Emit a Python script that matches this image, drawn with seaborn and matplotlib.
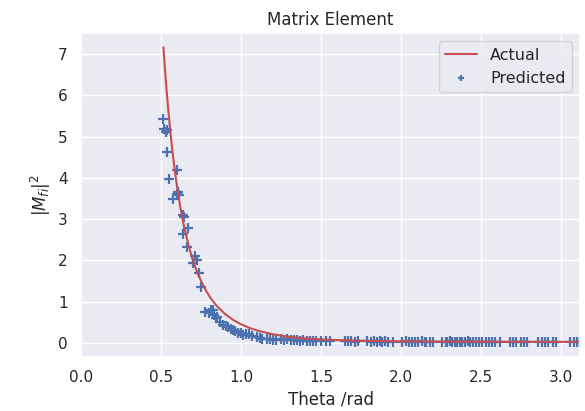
import matplotlib
matplotlib.use("Agg")
import matplotlib.pyplot as plt
import seaborn as sns
import pandas as pd

# Analytic ("actual") matrix element versus scattering angle
theta_actual = [0.515, 0.53, 0.545, 0.56, 0.575, 0.59, 0.605, 0.62, 0.64, 0.66,
                0.68, 0.70, 0.725, 0.75, 0.78, 0.81, 0.85, 0.90, 0.95, 1.00,
                1.06, 1.12, 1.20, 1.30, 1.40, 1.55, 1.70, 1.90, 2.10, 2.40,
                2.70, 3.00, 3.12]
m2_actual = [7.16, 6.36, 5.66, 5.06, 4.53, 4.07, 3.67, 3.31, 2.90, 2.56,
             2.26, 2.00, 1.73, 1.51, 1.28, 1.09, 0.895, 0.706, 0.564, 0.456,
             0.358, 0.285, 0.214, 0.153, 0.113, 0.08, 0.062, 0.048, 0.041, 0.035,
             0.032, 0.030, 0.030]

# Network predictions
theta_pred = [0.511, 0.52, 0.53, 0.535, 0.54, 0.598, 0.548, 0.598, 0.614, 0.605,
              0.577, 0.64, 0.645, 0.671, 0.64, 0.664, 0.7125, 0.723, 0.698, 0.74,
              0.748, 0.775, 0.80, 0.81, 0.827, 0.83, 0.844, 0.848, 0.869, 0.89,
              0.905, 0.92, 0.935, 0.95, 0.965, 0.98, 1.00, 1.01, 1.03, 1.05,
              1.07, 1.10, 1.12, 1.13, 1.16, 1.18, 1.20, 1.22, 1.25, 1.27,
              1.29, 1.31, 1.33, 1.35, 1.37, 1.39, 1.41, 1.43, 1.45, 1.47,
              1.50, 1.53, 1.555, 1.65, 1.67, 1.69, 1.71, 1.73, 1.79, 1.81,
              1.83, 1.85, 1.87, 1.88, 1.90, 1.92, 1.95, 2.01, 2.03, 2.05,
              2.07, 2.09, 2.11, 2.13, 2.15, 2.16, 2.18, 2.20, 2.26, 2.28,
              2.29, 2.31, 2.32, 2.34, 2.35, 2.37, 2.38, 2.40, 2.42, 2.43,
              2.45, 2.47, 2.49, 2.51, 2.53, 2.55, 2.57, 2.59, 2.62, 2.68,
              2.70, 2.72, 2.75, 2.77, 2.79, 2.86, 2.88, 2.90, 2.92, 2.95,
              2.97, 3.06, 3.08, 3.10, 3.12]
m2_pred = [5.42, 5.18, 5.12, 5.16, 4.62, 4.18, 3.98, 3.61, 3.58, 3.65,
           3.48, 3.10, 3.05, 2.78, 2.64, 2.32, 2.11, 2.01, 1.94, 1.70,
           1.36, 0.76, 0.74, 0.79, 0.80, 0.68, 0.60, 0.64, 0.52, 0.44,
           0.42, 0.38, 0.35, 0.31, 0.30, 0.25, 0.24, 0.19, 0.22, 0.23,
           0.17, 0.15, 0.12, 0.09, 0.11, 0.09, 0.08, 0.07, 0.09, 0.08,
           0.09, 0.07, 0.08, 0.07, 0.06, 0.07, 0.06, 0.05, 0.06, 0.05,
           0.05, 0.05, 0.04, 0.04, 0.05, 0.04, 0.03, 0.04, 0.04, 0.03,
           0.04, 0.03, 0.04, 0.03, 0.04, 0.03, 0.03, 0.03, 0.04, 0.03,
           0.02, 0.03, 0.03, 0.04, 0.03, 0.02, 0.03, 0.03, 0.03, 0.02,
           0.03, 0.04, 0.03, 0.02, 0.03, 0.03, 0.02, 0.03, 0.04, 0.03,
           0.02, 0.03, 0.03, 0.02, 0.03, 0.03, 0.02, 0.03, 0.03, 0.02,
           0.03, 0.03, 0.02, 0.03, 0.02, 0.03, 0.02, 0.03, 0.03, 0.02,
           0.03, 0.02, 0.03, 0.03, 0.02]

x_ticks = [0.0, 0.5, 1.0, 1.5, 2.0, 2.5, 3.0]

sns.set_theme(style="darkgrid")

actual = pd.DataFrame({"theta": theta_actual, "m2": m2_actual})
pred = pd.DataFrame({"theta": theta_pred, "m2": m2_pred})

fig, ax = plt.subplots(figsize=(5.85, 4.11), dpi=100)
fig.subplots_adjust(left=0.1385, right=0.9915, top=0.919, bottom=0.131)

sns.lineplot(data=actual, x="theta", y="m2", color="r", label="Actual", ax=ax)
sns.scatterplot(data=pred, x="theta", y="m2", marker="+", color="b",
                s=44, linewidth=1.6, label="Predicted", ax=ax)

ax.set_xlim(0, 3.12)
ax.set_ylim(-0.34, 7.5)
ax.set_xticks(x_ticks)
ax.set_title("Matrix Element")
ax.set_xlabel("Theta /rad")
ax.set_ylabel(r"$|M_{fi}|^2$")
leg = ax.legend(loc="upper right", fontsize=11.5)
# smaller cross in the legend key
leg.legend_handles[1].set_sizes([25])

fig.savefig("out.png", dpi=100)
